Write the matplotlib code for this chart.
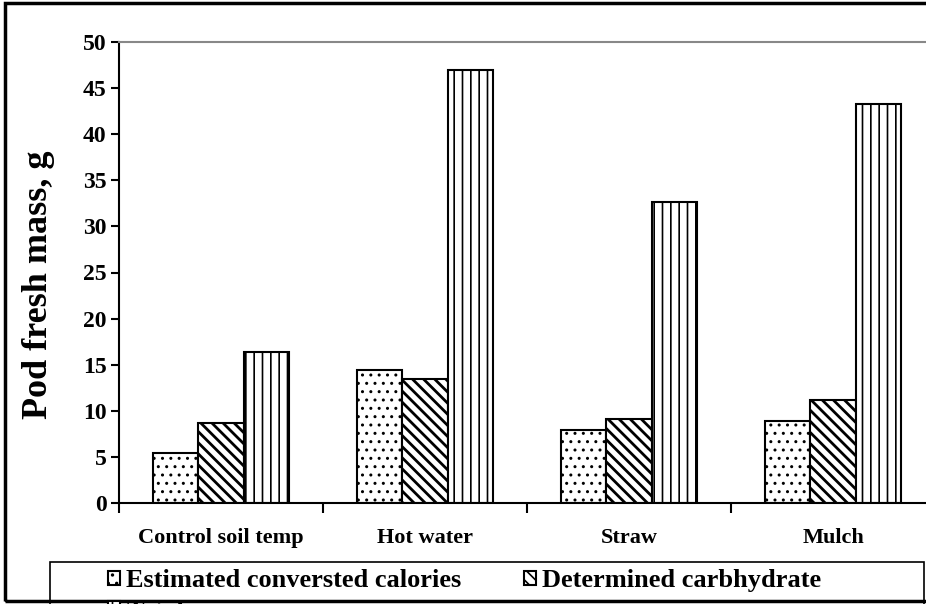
import matplotlib
matplotlib.use("Agg")
import matplotlib.pyplot as plt
import numpy as np
from matplotlib.patches import Rectangle

plt.rcParams["font.family"] = ["Liberation Serif", "DejaVu Serif"]
plt.rcParams["font.weight"] = "bold"

categories = ["Control soil temp", "Hot water", "Straw", "Mulch"]
calories = [5.4, 14.4, 7.9, 8.9]
carbs = [8.7, 13.5, 9.1, 11.2]
total = [16.4, 47.0, 32.7, 43.3]
series_names = ["Estimated conversted calories", "Determined carbhydrate", "Total"]
yticks = [0, 5, 10, 15, 20, 25, 30, 35, 40, 45, 50]

fig = plt.figure(figsize=(9.26, 6.04), dpi=100)
ax = fig.add_axes([119 / 926, 101 / 604, 816 / 926, 461 / 604])

x = np.arange(len(categories))
w = 0.223

plt.rcParams["hatch.linewidth"] = 1.0
b1 = ax.bar(x - w, calories, w, color="white", edgecolor="black", hatch="..", lw=1.5)
plt.rcParams["hatch.linewidth"] = 2.0
b2 = ax.bar(x, carbs, w, color="white", edgecolor="black", hatch="\\\\\\", lw=1.5)
plt.rcParams["hatch.linewidth"] = 1.2
b3 = ax.bar(x + w, total, w, color="white", edgecolor="black", hatch="||", lw=1.5)

ax.set_xlim(-0.5, len(categories) - 0.5)
ax.set_ylim(0, 50)
ax.set_yticks(yticks)
ax.set_yticklabels([str(v) for v in yticks], fontsize=17, fontweight="bold")

# category boundaries as ticks, names as minor labels
ax.set_xticks(np.arange(len(categories)) - 0.5)
ax.set_xticklabels([])
ax.set_xticks(x, minor=True)
ax.set_xticklabels(categories, minor=True, fontsize=16, fontweight="bold")
ax.tick_params(axis="x", which="minor", length=0, pad=18)
ax.tick_params(axis="x", which="major", length=7, width=1.5, direction="out")
ax.tick_params(axis="y", length=6, width=1.5, direction="out", pad=3)

ax.spines["left"].set_linewidth(1.5)
ax.spines["bottom"].set_linewidth(1.5)
ax.spines["top"].set_color("#888888")
ax.spines["top"].set_linewidth(1.5)
ax.spines["right"].set_visible(False)

ax.set_ylabel("Pod fresh mass, g", fontsize=26, fontweight="bold")
ax.yaxis.set_label_coords(-0.078, 0.473)

# outer border
fig.patches.append(Rectangle((5 / 926, 3 / 604), 1.0, 598 / 604, transform=fig.transFigure,
                             fill=False, edgecolor="black", lw=2.5))
# legend box
fig.patches.append(Rectangle((50 / 926, -0.05), 874 / 926, 0.05 + 42 / 604, transform=fig.transFigure,
                             fill=False, edgecolor="black", lw=1.2))

fig.legend([b1, b3, b2], [series_names[0], series_names[2], series_names[1]],
           ncol=2, loc="upper left", bbox_to_anchor=(108 / 926, 1 - 569 / 604),
           frameon=False, handlelength=0.45, handleheight=0.45,
           handletextpad=0.25, columnspacing=2.35, borderpad=0, borderaxespad=0,
           labelspacing=0.3, prop={"weight": "bold", "size": 19})

fig.savefig("out.png", dpi=100)
